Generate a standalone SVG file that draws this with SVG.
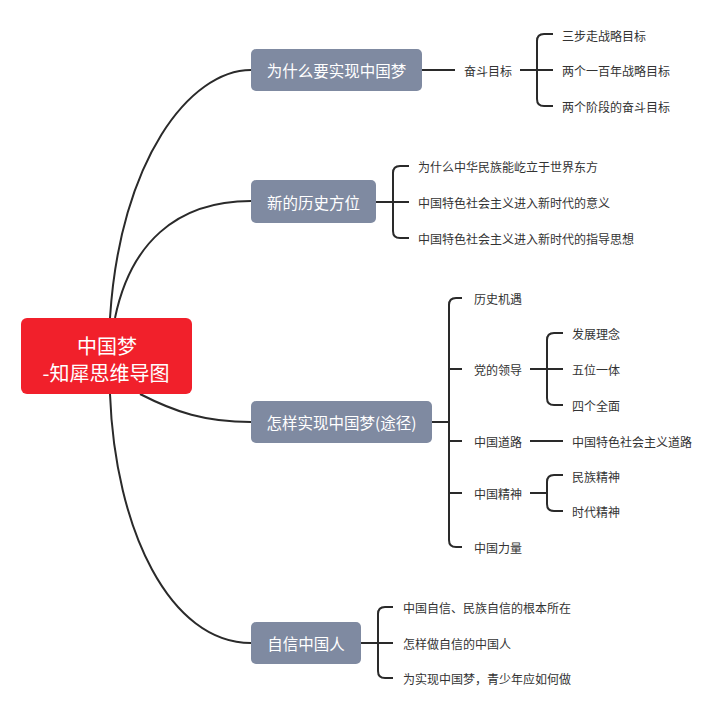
<svg xmlns="http://www.w3.org/2000/svg" width="720" height="713" viewBox="0 0 720 713">
<style>
.root{fill:#F1202B}
.l1{fill:#7F8AA1}
.rt{fill:#ffffff;font-family:"Noto Sans CJK SC","Noto Sans",sans-serif;font-size:20px;text-anchor:middle;dominant-baseline:central}
.t1{fill:#ffffff;font-family:"Noto Sans CJK SC","Noto Sans",sans-serif;font-size:15.5px;text-anchor:middle;dominant-baseline:central}
.t2{fill:#333333;font-family:"Noto Sans CJK SC","Noto Sans",sans-serif;font-size:12px;dominant-baseline:central}
.ln{fill:none;stroke:#2a2a2a;stroke-width:2;stroke-linecap:butt}
</style>
<rect width="720" height="713" fill="#ffffff"/>
<g id="connectors">
<path class="ln" d="M110,318 C120,160 190,70 251,70"/>
<path class="ln" d="M115,318 C130,245 175,201 251,201"/>
<path class="ln" d="M140,394 C175,412 205,422 251,422"/>
<path class="ln" d="M110,394 C115,530 170,643 251,643"/>
<!-- node1 -->
<path class="ln" d="M422,70 H455"/>
<path class="ln" d="M520,70 H553"/>
<path class="ln" d="M553,34 H544 Q537,34 537,41 V99 Q537,106 544,106 H553"/>
<!-- node2 -->
<path class="ln" d="M376,202 H409"/>
<path class="ln" d="M409,166 H400 Q393,166 393,173 V231 Q393,238 400,238 H409"/>
<!-- node3 -->
<path class="ln" d="M432,422 H449"/>
<path class="ln" d="M462,298 H456 Q449,298 449,305 V540 Q449,547 456,547 H462"/>
<path class="ln" d="M449,369 H462 M449,441 H462 M449,493 H462"/>
<path class="ln" d="M530,369 H563"/>
<path class="ln" d="M563,333 H554 Q547,333 547,340 V398 Q547,405 554,405 H563"/>
<path class="ln" d="M530,441 H563"/>
<path class="ln" d="M530,493 H547"/>
<path class="ln" d="M563,475 H554 Q547,475 547,482 V504 Q547,511 554,511 H563"/>
<!-- node4 -->
<path class="ln" d="M361,643 H393"/>
<path class="ln" d="M393,607 H385 Q378,607 378,614 V671 Q378,678 385,678 H393"/>
</g>
<g id="root">
<rect class="root" x="21" y="318" width="171" height="76" rx="6"/>
<text class="rt" x="107" y="345">中国梦</text>
<text class="rt" x="106" y="372">-知犀思维导图</text>
</g>
<g id="n1">
<rect class="l1" x="251" y="49" width="171" height="42" rx="5"/>
<text class="t1" x="336.5" y="70">为什么要实现中国梦</text>
</g>
<g id="n1-a"><text class="t2" x="464" y="70">奋斗目标</text></g>
<g id="n1-a1"><text class="t2" x="562" y="35">三步走战略目标</text></g>
<g id="n1-a2"><text class="t2" x="562" y="70">两个一百年战略目标</text></g>
<g id="n1-a3"><text class="t2" x="562" y="106">两个阶段的奋斗目标</text></g>
<g id="n2">
<rect class="l1" x="251" y="180" width="125" height="43" rx="5"/>
<text class="t1" x="313.5" y="201.5">新的历史方位</text>
</g>
<g id="n2-a"><text class="t2" x="418" y="166">为什么中华民族能屹立于世界东方</text></g>
<g id="n2-b"><text class="t2" x="418" y="202">中国特色社会主义进入新时代的意义</text></g>
<g id="n2-c"><text class="t2" x="418" y="238">中国特色社会主义进入新时代的指导思想</text></g>
<g id="n3">
<rect class="l1" x="251" y="401" width="181" height="42" rx="5"/>
<text class="t1" x="341.5" y="422">怎样实现中国梦(途径)</text>
</g>
<g id="n3-a"><text class="t2" x="474" y="298">历史机遇</text></g>
<g id="n3-b"><text class="t2" x="474" y="369">党的领导</text></g>
<g id="n3-b1"><text class="t2" x="572" y="333">发展理念</text></g>
<g id="n3-b2"><text class="t2" x="572" y="369">五位一体</text></g>
<g id="n3-b3"><text class="t2" x="572" y="405">四个全面</text></g>
<g id="n3-c"><text class="t2" x="474" y="441">中国道路</text></g>
<g id="n3-c1"><text class="t2" x="572" y="441">中国特色社会主义道路</text></g>
<g id="n3-d"><text class="t2" x="474" y="493">中国精神</text></g>
<g id="n3-d1"><text class="t2" x="572" y="476">民族精神</text></g>
<g id="n3-d2"><text class="t2" x="572" y="511">时代精神</text></g>
<g id="n3-e"><text class="t2" x="474" y="547">中国力量</text></g>
<g id="n4">
<rect class="l1" x="251" y="622" width="110" height="42" rx="5"/>
<text class="t1" x="306" y="643">自信中国人</text>
</g>
<g id="n4-a"><text class="t2" x="403" y="607">中国自信、民族自信的根本所在</text></g>
<g id="n4-b"><text class="t2" x="403" y="643">怎样做自信的中国人</text></g>
<g id="n4-c"><text class="t2" x="403" y="678">为实现中国梦，青少年应如何做</text></g>
</svg>
